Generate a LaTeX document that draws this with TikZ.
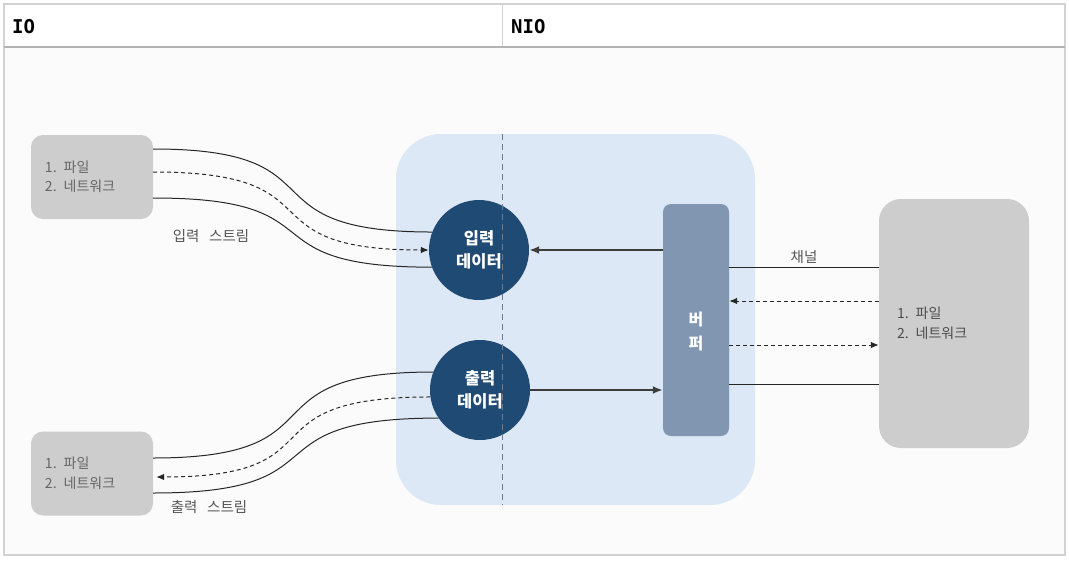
\documentclass[tikz,border=0pt]{standalone}
\usepackage{fontspec}
\setmainfont{Noto Sans CJK KR}
\newfontfamily\headfont{DejaVu Sans Mono}
\usetikzlibrary{arrows.meta}

\definecolor{pagebg}{HTML}{FBFBFB}
\definecolor{framegray}{HTML}{D2D2D2}
\definecolor{headline}{HTML}{B4B4B4}
\definecolor{boxgray}{HTML}{CDCDCD}
\definecolor{boxtext}{HTML}{666666}
\definecolor{areablue}{HTML}{DCE8F5}
\definecolor{datablue}{HTML}{1F4A73}
\definecolor{bufblue}{HTML}{8196B0}
\definecolor{feedgray}{HTML}{3C3C3C}
\definecolor{sepgray}{HTML}{6F7A8A}
\definecolor{labelgray}{HTML}{555555}

\tikzset{
  headtxt/.style={anchor=west, inner sep=0pt, font=\headfont\bfseries\fontsize{19}{22}\selectfont},
  srcbox/.style={fill=boxgray, rounded corners=12pt, minimum width=122pt, minimum height=84pt,
    inner xsep=14pt, text width=94pt, align=left, text=boxtext,
    font=\fontsize{14}{19.5}\selectfont},
  chanbox/.style={srcbox, rounded corners=22pt, minimum width=150pt, minimum height=249pt,
    inner xsep=18pt, text width=114pt, text=black!70},
  nioarea/.style={fill=areablue, rounded corners=45pt, minimum width=359pt, minimum height=371pt},
  databox/.style={circle, fill=datablue, minimum size=100pt, inner sep=0pt, text=white,
    align=center, font=\bfseries\fontsize{16.5}{23}\selectfont},
  bufbox/.style={fill=bufblue, rounded corners=8pt, minimum width=66pt, minimum height=232pt},
  buftext/.style={text=white, align=center, inner sep=0pt, font=\bfseries\fontsize{16}{24}\selectfont},
  labeltxt/.style={text=labelgray, inner sep=1pt, font=\fontsize{14.5}{16}\selectfont},
  sepline/.style={sepgray, line width=0.9pt, dash pattern=on 6pt off 4pt},
  stream/.style={black!85, line width=1pt},
  feed/.style={feedgray, line width=2.5pt, -{Latex[length=10pt,width=8pt]}},
  dotted stream/.style={stream, dash pattern=on 4pt off 3pt, -{Latex[length=8pt,width=6.5pt]}}
}

\begin{document}
\begin{tikzpicture}[x=1pt,y=-1pt]
  \useasboundingbox (0,0) rectangle (1069,560);

  % table frame
  \fill[pagebg] (4,47) rectangle (1065,555);
  \fill[white] (4,4) rectangle (1065,47);
  \draw[framegray, line width=1.2pt] (4,4) rectangle (1065,555);
  \draw[framegray, line width=1pt] (502,4) -- (502,47);
  \draw[headline, line width=1.6pt] (4,47) -- (1065,47);
  \node[headtxt] (IOhead) at (12,27) {IO};
  \node[headtxt] (NIOhead) at (511,27) {NIO};

  % boxes
  \node[nioarea] (NioArea) at (575.5,319.5) {};
  \node[srcbox] (IOin) at (92,177) {1. 파일\\2. 네트워크};
  \node[srcbox] (IOout) at (92,473.5) {1. 파일\\2. 네트워크};
  \node[chanbox] (Channel) at (954,323.5) {1. 파일\\2. 네트워크};
  \node[databox] (InData) at (479,250) {입력\\데이터};
  \node[databox] (OutData) at (480,390) {출력\\데이터};
  \node[bufbox] (Buffer) at (696,320) {};
  \node[buftext] (BufLbl) at (696,331) {버\\퍼};
  \draw[sepline] (502,134) -- (502,505);

  % input stream
  \draw[stream] ([yshift=28pt]IOin.east) to[out=0,in=180,looseness=1.7] (InData.159);
  \draw[dotted stream] ([yshift=5pt]IOin.east) to[out=0,in=180,looseness=1.7] (InData.180);
  \draw[stream] ([yshift=-21pt]IOin.east) to[out=0,in=180,looseness=1.7] (InData.200);
  \node[labeltxt] (InStream) at (211,236) {입력~~~스트림};

  % output stream
  \draw[stream] (OutData.159) to[out=180,in=0,looseness=1.7] ([yshift=15.5pt]IOout.east);
  \draw[dotted stream, shorten >=3pt] (OutData.188) to[out=180,in=0,looseness=1.7] ([yshift=-3.5pt]IOout.east);
  \draw[stream] (OutData.214) to[out=180,in=0,looseness=1.7] ([yshift=-19.5pt]IOout.east);
  \node[labeltxt] (OutStream) at (209,507) {출력~~~스트림};

  % buffer
  \draw[feed] ([yshift=70pt]Buffer.west) -- (InData.east);
  \draw[feed] (OutData.east) -- ([yshift=-70pt]Buffer.west);

  % channel
  \draw[stream] ([yshift=53pt]Buffer.east) -- node[labeltxt, above=2pt] (ChanLbl) {채널} ([yshift=56.5pt]Channel.west);
  \draw[dotted stream] ([yshift=22.5pt]Channel.west) -- ([yshift=19pt]Buffer.east);
  \draw[dotted stream] ([yshift=-25pt]Buffer.east) -- ([yshift=-21.5pt]Channel.west);
  \draw[stream] ([yshift=-64pt]Buffer.east) -- ([yshift=-60.5pt]Channel.west);
\end{tikzpicture}
\end{document}
